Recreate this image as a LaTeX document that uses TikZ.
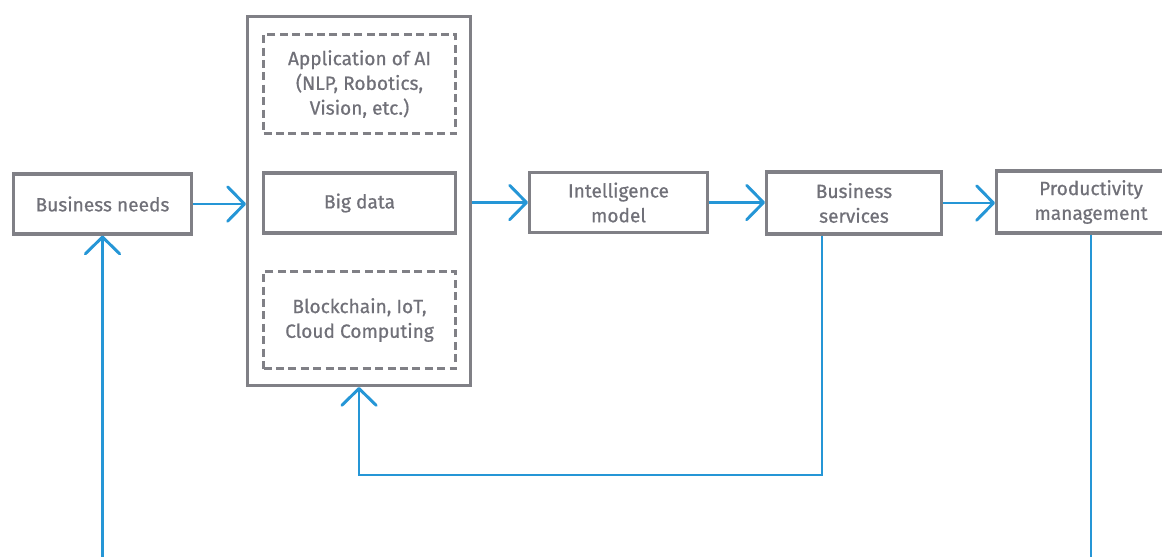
\documentclass[tikz,border=0pt]{standalone}
\usepackage{fontspec}
\setmainfont{Fira Sans}[BoldFont=Fira Sans,BoldFeatures={FakeBold=0.7}]
\usetikzlibrary{arrows.meta,positioning}
\definecolor{boxgray}{RGB}{128,128,134}
\definecolor{textgray}{RGB}{112,112,120}
\definecolor{flowblue}{RGB}{37,150,214}
\tikzset{
    block/.style={
    rectangle,draw=boxgray,line width=2.2pt,text=textgray,align=center,
    minimum width=4.45cm,minimum height=1.5cm,font=\fontsize{13.6}{17.6}\selectfont\bfseries
    },
    dblock/.style={
    block,dash pattern=on 0.2cm off 0.11cm,minimum width=4.8cm
    },
    frame/.style={
    rectangle,draw=boxgray,line width=2.2pt,minimum width=5.575cm,minimum height=9.225cm
    },
    flow/.style={
    draw=flowblue,line width=2.1pt,-{Straight Barb[length=0.42cm,width=0.86cm,round]}
    },
    wire/.style={
    draw=flowblue,line width=2.1pt
    },
}
\begin{document}
\begin{tikzpicture}
   \useasboundingbox (0,0) rectangle (29.05,-13.9);
   \node[block] (needs) at (2.5625,-5.1) {Business needs};
   \node[frame] (stack) at (8.975,-5.025) {};
   \node[dblock] (ai) at (8.9875,-2.1) [minimum height=2.475cm] {Application of AI\\(NLP, Robotics,\\Vision, etc.)};
   \node[block,minimum width=4.8cm] (bigdata) at (8.9875,-5.075) {Big data};
   \node[dblock] (infra) at (8.9875,-8.0) [minimum height=2.425cm] {Blockchain, IoT,\\Cloud Computing};
   \node[block] (model) at (15.4625,-5.0625) {Intelligence\\model};
   \node[block,minimum width=4.375cm,minimum height=1.55cm] (services) at (21.35,-5.075) {Business\\services};
   \node[block,minimum width=4.725cm,minimum height=1.55cm] (prod) at (27.275,-5.05) {Productivity\\management};

   \coordinate (loop) at (20.55,-11.875);
   \coordinate (inlet) at (2.5625,-14.5);
   \coordinate (outlet) at (27.275,-14.5);

  \path[flow]
    (needs.east) edge (needs.east -| stack.west)
    (model.west -| stack.east) edge (model.west)
    (model.east) edge (services.west |- model.east)
    (services.east) edge (prod.west |- services.east)
    (inlet) edge (needs.south);
  \draw[flow] (services.south -| loop) -- (loop) -- (loop -| stack.south) -- (stack.south);
  \draw[wire] (prod.south) -- (outlet);
\end{tikzpicture}
\end{document}
